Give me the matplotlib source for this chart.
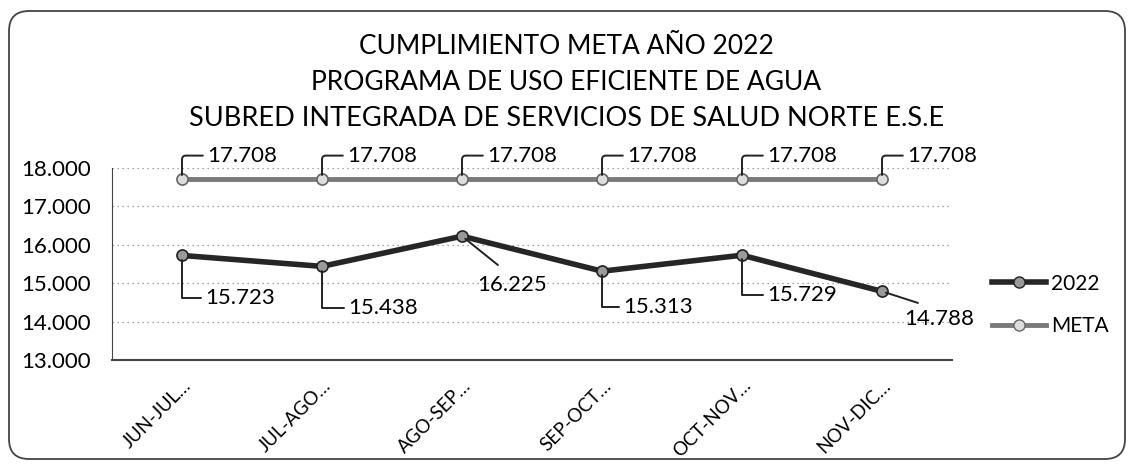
import matplotlib
matplotlib.use("Agg")
import matplotlib.pyplot as plt
from matplotlib.patches import FancyBboxPatch
from matplotlib.lines import Line2D

categories = ["JUN-JUL…", "JUL-AGO…", "AGO-SEP…", "SEP-OCT…", "OCT-NOV…", "NOV-DIC…"]
serie_2022 = [15723, 15438, 16225, 15313, 15729, 14788]
serie_meta = [17708, 17708, 17708, 17708, 17708, 17708]
y_ticks = [13000, 14000, 15000, 16000, 17000, 18000]

def fmt(v):
    return f"{v:,.0f}".replace(",", ".")

plt.rcParams['font.family'] = ['Lato', 'DejaVu Sans']

fig = plt.figure(figsize=(11.33, 4.66), dpi=100)
fig.patch.set_facecolor("white")

# rounded outer frame (inches)
frame = FancyBboxPatch((0.09, 0.07), 11.16, 4.48, boxstyle="round,pad=0,rounding_size=0.2",
                       transform=fig.dpi_scale_trans, fill=False, edgecolor="#444444", lw=1.3)
fig.add_artist(frame)

ax = fig.add_axes([112/1133, 1 - 360/466, 840/1133, 192/466])
x = list(range(len(categories)))

c2022 = "#262626"
cmeta = "#7a7a7a"
ax.plot(x, serie_2022, color=c2022, lw=4, marker='o', ms=8, mfc="#9a9a9a", mec="#222222", mew=1.2,
        label="2022", zorder=3)
ax.plot(x, serie_meta, color=cmeta, lw=3.5, marker='o', ms=8, mfc="#dddddd", mec="#666666", mew=1.2,
        label="META", zorder=3)

ax.set_xlim(-0.5, len(categories) - 0.5)
ax.set_ylim(13000, 18000)
ax.set_yticks(y_ticks)
ax.set_yticklabels([fmt(v) for v in y_ticks], fontsize=16)
ax.set_xticks(x)
ax.set_xticklabels(categories, rotation=45, ha='right', rotation_mode='anchor', fontsize=13.5)
ax.tick_params(axis='y', length=0, pad=15)
ax.tick_params(axis='x', length=0, pad=12)
ax.grid(axis='y', linestyle=(0, (1, 3)), color="#888888", lw=0.9)
for s in ["top", "right"]:
    ax.spines[s].set_visible(False)
ax.spines["left"].set_color("#444444")
ax.spines["bottom"].set_color("#444444")
ax.spines["bottom"].set_linewidth(1.5)
ax.set_axisbelow(True)

# labels for META (above-right with bracket leader)
for xi, v in zip(x, serie_meta):
    ax.annotate(fmt(v), xy=(xi, v), xytext=(18, 17), textcoords='offset points',
                fontsize=16, va='center', ha='left',
                arrowprops=dict(arrowstyle='-', color='#222222', lw=1.4,
                                connectionstyle="angle,angleA=0,angleB=90,rad=4",
                                shrinkA=1, shrinkB=3))

# labels for 2022
offsets = [(16.5, -31), (18.7, -30), (11, -35), (15, -26), (18, -29), (16, -20)]
styles = ["angle", "angle", "diag", "angle", "angle", "diag"]
for xi, v, off, st in zip(x, serie_2022, offsets, styles):
    if st == "angle":
        props = dict(arrowstyle='-', color='#222222', lw=1.4,
                     connectionstyle="angle,angleA=0,angleB=90,rad=0", shrinkA=1, shrinkB=3)
    else:
        props = dict(arrowstyle='-', color='#222222', lw=1.4, connectionstyle="arc3",
                     relpos=(0.47, 1.0), shrinkA=8, shrinkB=3)
    ax.annotate(fmt(v), xy=(xi, v), xytext=off, textcoords='offset points',
                fontsize=16, va='center', ha='left', arrowprops=props)

# title
fig.text(0.5, 1 - 47/466, "CUMPLIMIENTO META AÑO 2022", ha='center', va='center', fontsize=19)
fig.text(0.5, 1 - 82/466, "PROGRAMA DE USO EFICIENTE DE AGUA", ha='center', va='center', fontsize=19)
fig.text(0.5, 1 - 118/466, "SUBRED INTEGRADA DE SERVICIOS DE SALUD NORTE E.S.E", ha='center', va='center', fontsize=19.5)

# legend
handles = [Line2D([0], [0], color=c2022, lw=4, marker='o', ms=8, mfc="#9a9a9a", mec="#222222"),
           Line2D([0], [0], color=cmeta, lw=3.5, marker='o', ms=8, mfc="#dddddd", mec="#666666")]
fig.legend(handles, ["2022", "META"], loc='center left', bbox_to_anchor=(973/1133, 1 - 305/466),
           frameon=False, fontsize=15, handlelength=2.6, handletextpad=0.25, labelspacing=1.1)

fig.savefig("out.png", dpi=100)
